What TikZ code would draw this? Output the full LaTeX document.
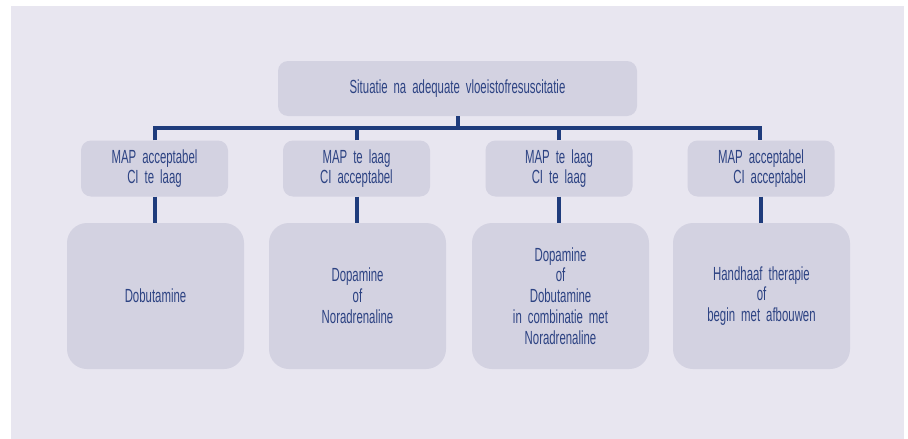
\documentclass[tikz,border=0pt]{standalone}
\usepackage{fontspec}
\setmainfont{Liberation Sans}[FakeStretch=0.6,WordSpace=1.9]
\definecolor{panel}{HTML}{E8E6F0}
\definecolor{boxfill}{HTML}{D3D2E1}
\definecolor{linec}{HTML}{1F3C7C}
\definecolor{textc}{HTML}{2D4383}
\begin{document}
\begin{tikzpicture}[x=1pt,y=-1pt,
  every node/.style={font=\fontsize{19}{20.8}\selectfont, text=textc, align=center, inner sep=0pt},
  bx/.style={fill=boxfill, rounded corners=10pt, minimum width=147pt, minimum height=56pt},
  bigbx/.style={fill=boxfill, rounded corners=20pt, minimum width=177pt, minimum height=146pt},
  conn/.style={draw=linec, line width=4pt, line join=miter}]
\useasboundingbox (0,0) rectangle (908,439);
\fill[white] (0,0) rectangle (908,439);
\fill[panel] (11,6) rectangle (904,439);
\node[bx, minimum width=359pt, minimum height=55pt] (top) at (457.5,88.5) {Situatie na adequate vloeistofresuscitatie};
\node[bx] (a1) at (154.5,168.5) {MAP acceptabel\\CI te laag};
\node[bx] (a2) at (356.5,168.5) {MAP te laag\\CI acceptabel};
\node[bx] (a3) at (559,168.5) {MAP te laag\\CI te laag};
\node[bx] (a4) at (761,168.5) {MAP acceptabel\\\hspace*{0.9em}CI acceptabel};
\node[bigbx] (b1) at (155.5,296) {Dobutamine};
\node[bigbx] (b2) at (357.5,296) {Dopamine\\of\\Noradrenaline};
\node[bigbx] (b3) at (560.5,296) {Dopamine\\of\\Dobutamine\\in combinatie met\\Noradrenaline};
\node[bigbx] (b4) at (761.5,296) {Handhaaf therapie\\of\\begin met afbouwen};
\coordinate (bus) at (0,128);
\draw[conn] ([xshift=0.5pt]a1.north) -- ([xshift=0.5pt]a1.north |- bus) -- ([xshift=-1pt]a4.north |- bus) -- ([xshift=-1pt]a4.north);
\draw[conn] (top.south) -- (top.south |- bus);
\draw[conn] ([xshift=0.5pt]a2.north) -- ([xshift=0.5pt]a2.north |- bus);
\draw[conn] (a3.north) -- (a3.north |- bus);
\foreach \i in {1,2,3,4} \draw[conn] (a\i.south) -- (a\i.south |- b\i.north);
\end{tikzpicture}
\end{document}
